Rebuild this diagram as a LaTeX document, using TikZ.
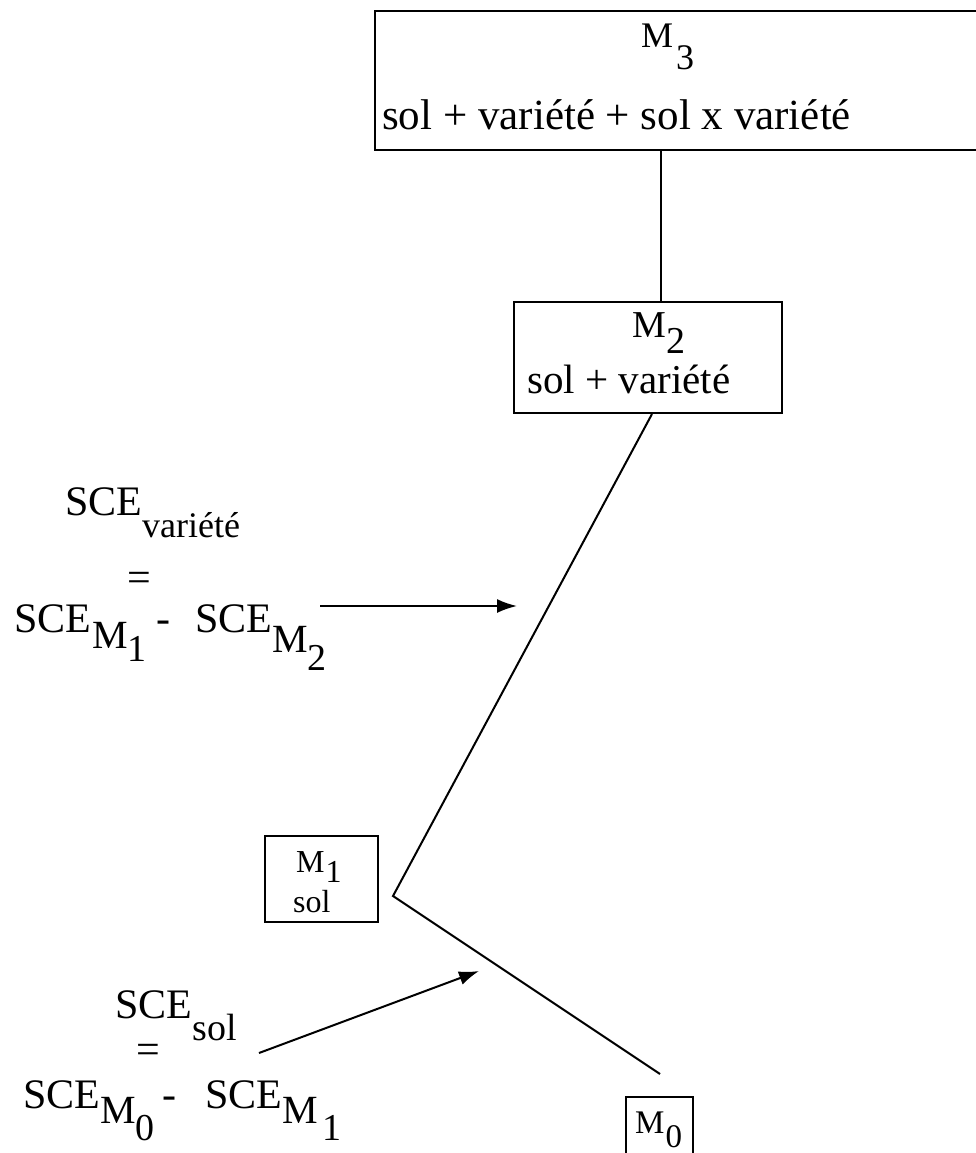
\documentclass[tikz,border=0pt]{standalone}
\usepackage{fontspec}
\setmainfont{Liberation Serif}
\usetikzlibrary{arrows.meta}
\newcommand\dn[2]{\lower#1pt\hbox{#2}}
\newcommand\fs[1]{\fontsize{#1}{#1}\selectfont}
\begin{document}
\begin{tikzpicture}[x=1pt,y=-1pt,
  box/.style={draw, line width=2pt, inner sep=0pt, rectangle},
  lbl/.style={inner sep=0pt, anchor=base west},
  conn/.style={line width=2pt},
  arr/.style={line width=2pt, -{Latex[length=20pt,width=14pt]}}]
\useasboundingbox (0,0) rectangle (976,1153);
\clip (0,0) rectangle (976,1153);
% boxes
\node[box, minimum width=635pt, minimum height=139pt] (m3) at (692.5,80.5) {};
\node[box, minimum width=268pt, minimum height=111pt] (m2) at (648,357.5) {};
\node[box, minimum width=113pt, minimum height=86pt] (m1) at (321.5,879) {};
\node[box, minimum width=67pt, minimum height=73pt] (m0) at (659.5,1133.5) {};
% box texts
\node[lbl] (t3a) at (641,48) {\fs{36}M\kern3pt\dn{22}{3}};
\node[lbl] (t3b) at (382,129) {\fs{43}sol + variété + sol x variété};
\node[lbl] (t2a) at (632,337) {\fs{38}M\kern1pt\dn{16}{2}};
\node[lbl] (t2b) at (527,393) {\fs{41}sol + variété};
\node[lbl] (t1a) at (296,872) {\fs{32}M\kern1pt\dn{10}{1}};
\node[lbl] (t1b) at (293,912) {\fs{32}sol};
\node[lbl] (t0a) at (635,1133) {\fs{33}M\kern1pt\dn{14}{0}};
% SCE variete label
\node[lbl] (v0) at (65,515) {\fs{42}SCE\dn{22}{\fs{36}variété}};
\node[inner sep=0pt] (veq) at (139,582) {\fs{42}=};
\node[lbl] (v1) at (14,632) {\fs{42}SCE\kern1pt\dn{16}{\fs{40}M\dn{13}{\fs{38}1}}\kern10pt-};
\node[lbl] (v2) at (195,632) {\fs{42}SCE\dn{20}{\fs{40}M\dn{18}{\fs{38}2}}};
% SCE sol label
\node[lbl] (s0) at (115,1018) {\fs{42}SCE\dn{22}{\fs{38}sol}};
\node[inner sep=0pt] (seq) at (148,1054) {\fs{42}=};
\node[lbl] (s1) at (23,1108) {\fs{42}SCE\dn{15}{\fs{40}M\dn{17}{\fs{38}0}}\kern8pt-};
\node[lbl] (s2) at (205,1108) {\fs{42}SCE\dn{15}{\fs{40}M\kern5pt\dn{17}{\fs{38}1}}};
% connectors
\coordinate (c1) at (661,0);
\draw[conn] (m3.south -| c1) -- (m2.north -| c1);
\coordinate (c2) at (652,0);
\coordinate (vtx) at (393,896);
\coordinate (e0) at (660,1074);
\draw[conn] (m2.south -| c2) -- (vtx) -- (e0);
% arrows
\coordinate (a1s) at (320,606);
\coordinate (a1e) at (517,606);
\draw[arr] (a1s) -- (a1e);
\coordinate (a2s) at (259,1053);
\coordinate (a2e) at (479,971);
\draw[arr] (a2s) -- (a2e);
\end{tikzpicture}
\end{document}
